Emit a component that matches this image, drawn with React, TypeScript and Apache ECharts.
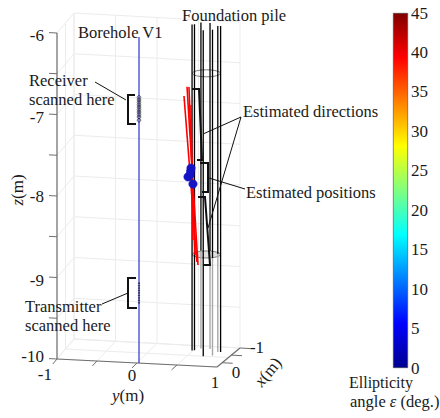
import React, { useEffect, useRef } from "react";
import * as echarts from "echarts";

const SERIF = "'Liberation Serif', serif";
const TEXT = "#1a1a1a";

// axes
const zGridValues = [-6, -6.5, -7, -7.5, -8, -8.5, -9, -9.5, -10];
const yGridValues = [-1, -0.5, 0, 0.5, 1];
const xGridValues = [-1, 0, 1];
const zTickValues = [-6, -6.5, -7, -7.5, -8, -8.5, -9, -9.5, -10];
const yTickValues = [-1, -0.5, 0, 0.5];
const xTickValues = [-1, -0.25, 0.55];
const colorbarTicks = [0, 45];

// foundation pile bars (x, y in metres)
const pileX = [-0.5, -0.55, -0.75, 0, -0.75, -0.1, -0.5, -0.5];
const pileY = [0.487, 0.51, 0.562, 0.69, 0.672, 0.79, 0.8, 0.834];
const pileGreyBelow = [false, false, true, false, true, true, true, false];
const pileCircleZ = [-6.577, -8.8];

// borehole V1 scan positions (z in metres)
const receiverZ = [-6.74, -6.77, -6.8, -6.83, -6.86, -6.89, -6.92, -6.95, -6.98, -7.02];
const transmitterZ = [-9.02, -9.05, -9.08, -9.11, -9.14, -9.17, -9.2, -9.23, -9.26];

// estimated directions: [y, z] of both ends, at x = 0
const directionTopY = [0.454, 0.491, 0.515, 0.54];
const directionTopZ = [-6.82, -6.705, -6.707, -6.927];
const directionBottomY = [0.613, 0.626, 0.589, 0.564];
const directionBottomZ = [-8.848, -8.885, -8.764, -8.581];

// estimated positions
const positionY = [0.54, 0.528, 0.503, 0.564, 0.535];
const positionZ = [-7.7, -7.785, -7.81, -7.894, -7.74];

const lerp = (a: number, b: number, t: number) => a + (b - a) * t;
function project(x: number, y: number, z: number): number[] {
  const u = (y + 1) / 2;
  const v = (x + 1) / 2;
  const fx = lerp(lerp(74, 240, u), lerp(57, 217, u), v);
  const fy = lerp(lerp(339, 348, u), lerp(359, 367, u), v);
  return [fx, fy - (z + 10) * 81.5];
}

type Seg = number[];
const segments = (name: string, data: Seg[], color: string, width: number) => ({
  type: "custom",
  name,
  silent: true,
  xAxisIndex: 0,
  yAxisIndex: 0,
  data,
  renderItem: (_: any, api: any) => {
    const a = api.coord(project(api.value(0), api.value(1), api.value(2)));
    const b = api.coord(project(api.value(3), api.value(4), api.value(5)));
    return {
      type: "line",
      shape: { x1: a[0], y1: a[1], x2: b[0], y2: b[1] },
      style: { stroke: color, lineWidth: width, fill: "none" },
    };
  },
});

const dots = (name: string, data: number[][], r: number, style: any) => ({
  type: "custom",
  name,
  silent: true,
  xAxisIndex: 0,
  yAxisIndex: 0,
  data,
  renderItem: (_: any, api: any) => {
    const c = api.coord(project(api.value(0), api.value(1), api.value(2)));
    return { type: "circle", shape: { cx: c[0], cy: c[1], r }, style };
  },
});

const circles3d = (name: string, data: number[][], styles: any[]) => ({
  type: "custom",
  name,
  silent: true,
  xAxisIndex: 0,
  yAxisIndex: 0,
  data,
  renderItem: (p: any, api: any) => {
    const c = api.coord(project(api.value(0), api.value(1), api.value(2)));
    return {
      type: "ellipse",
      shape: { cx: c[0], cy: c[1], rx: 14, ry: 3.5 },
      style: styles[p.dataIndex],
    };
  },
});

function buildGrid(): Seg[] {
  const s: Seg[] = [];
  for (const z of zGridValues) {
    s.push([-1, -1, z, -1, 1, z]);
    s.push([1, -1, z, -1, -1, z]);
  }
  for (const y of yGridValues) {
    s.push([-1, y, -10, -1, y, -6]);
    s.push([-1, y, -10, 1, y, -10]);
  }
  for (const x of xGridValues) {
    s.push([x, -1, -10, x, -1, -6]);
    s.push([x, -1, -10, x, 1, -10]);
  }
  return s;
}

function buildOption() {
  const axes: Seg[] = [
    [1, -1, -6, 1, -1, -10],
    [1, -1, -10, 1, 1, -10],
    [1, 1, -10, -1, 1, -10],
  ];
  const ticks: Seg[] = [
    ...zTickValues.map((z) => [1, -1, z, 1, -1.1, z]),
    ...yTickValues.map((y) => [1, y, -10, 1.5, y, -10]),
    ...xTickValues.map((x) => [x, 1, -10, x, 1.13, -10]),
  ];
  const pileBlack: Seg[] = pileX.map((x, i) => [
    x, pileY[i], -6, x, pileY[i], pileGreyBelow[i] ? pileCircleZ[1] : -10,
  ]);
  const pileGrey: Seg[] = pileX
    .map((x, i) => [x, pileY[i], pileCircleZ[1], x, pileY[i], -10])
    .filter((_, i) => pileGreyBelow[i]);
  const directions: Seg[] = directionTopY.map((y, i) => [
    0, y, directionTopZ[i], 0, directionBottomY[i], directionBottomZ[i],
  ]);
  const poly = (points: number[][], lineWidth: number) => ({
    type: "polyline",
    z: 50,
    shape: { points },
    style: { stroke: "#111", lineWidth, fill: "none" },
  });
  const label = (text: string, x: number, y: number, extra: any = {}) => {
    const fontSize = extra.size ?? 16.5;
    return {
      type: "text",
      z: 60,
      x,
      y,
      rotation: extra.rotation ?? 0,
      style: {
        text,
        fill: TEXT,
        fontFamily: SERIF,
        fontSize,
        align: extra.align ?? "left",
        verticalAlign: "middle",
        rich: {
          i: { fontStyle: "italic", fontFamily: SERIF, fontSize, fill: TEXT },
          n: { fontFamily: SERIF, fontSize, fill: TEXT },
        },
      },
    };
  };

  return {
    animation: false,
    backgroundColor: "#ffffff",
    grid: [
      { left: 0, top: 0, width: 440, height: 418 },
      { left: 393, top: 13, width: 15, height: 355 },
    ],
    xAxis: [
      { type: "value", gridIndex: 0, min: 0, max: 440, show: false },
      { type: "category", gridIndex: 1, data: ["ε"], show: false },
    ],
    yAxis: [
      { type: "value", gridIndex: 0, min: 0, max: 418, inverse: true, show: false },
      {
        type: "value",
        gridIndex: 1,
        position: "right",
        min: colorbarTicks[0],
        max: colorbarTicks[1],
        interval: 5,
        axisLine: { show: false },
        splitLine: { show: false },
        axisTick: { inside: true, length: 4, lineStyle: { color: "#222", width: 1 } },
        axisLabel: { margin: 3, fontFamily: SERIF, fontSize: 17, color: TEXT },
      },
    ],
    series: [
      segments("grid", buildGrid(), "#ececec", 1),
      segments("axes", axes, "#6e6e6e", 1.2),
      segments("ticks", ticks, "#6e6e6e", 1),
      circles3d(
        "pile circles",
        pileCircleZ.map((z) => [-0.4, 0.675, z]),
        [
          { stroke: "#777", fill: "none", lineWidth: 1 },
          { stroke: "#777", fill: "rgba(170,170,170,0.35)", lineWidth: 1 },
        ],
      ),
      segments("Borehole V1", [[1, 0.025, -6, 1, 0.025, -10]], "#2f2fd0", 1.2),
      segments("pile grey", pileGrey, "#a8a8a8", 1.4),
      segments("pile", pileBlack, "#000000", 1.3),
      dots(
        "receiver",
        receiverZ.map((z) => [1, 0.025, z]),
        1.8,
        { stroke: "#222", fill: "none", lineWidth: 0.7 },
      ),
      dots(
        "transmitter",
        transmitterZ.map((z) => [1, 0.025, z]),
        0.6,
        { stroke: "#222", fill: "#222", lineWidth: 0.5 },
      ),
      segments("directions", directions, "#ff0000", 1.6),
      dots(
        "positions",
        positionY.map((y, i) => [0, y, positionZ[i]]),
        4.2,
        { fill: "#1414c4", stroke: "#1414c4", lineWidth: 0.5 },
      ),
      {
        type: "bar",
        name: "colorbar",
        xAxisIndex: 1,
        yAxisIndex: 1,
        silent: true,
        barWidth: "100%",
        data: [45],
        itemStyle: {
          borderColor: "#444",
          borderWidth: 0.6,
          color: new echarts.graphic.LinearGradient(0, 0, 0, 1, [
            { offset: 0, color: "#800000" },
            { offset: 0.125, color: "#ff0000" },
            { offset: 0.375, color: "#ffff00" },
            { offset: 0.625, color: "#00ffff" },
            { offset: 0.875, color: "#0000ff" },
            { offset: 1, color: "#00008f" },
          ]),
        },
      },
    ],
    graphic: [
      poly([[135, 95], [128, 95], [128, 124], [136, 124]], 2),
      poly([[136, 278], [128, 278], [128, 308], [137, 308]], 2),
      poly([[192, 89], [199, 89], [202, 160], [197, 160]], 2),
      poly([[200, 163], [208, 163], [208, 192], [202, 192]], 2),
      poly([[198, 197], [205, 197], [210, 265], [203, 265]], 2),
      poly([[95, 82], [126, 100]], 1),
      poly([[102, 304], [128, 293]], 1),
      poly([[203, 134], [241, 117], [208, 228]], 1),
      poly([[209, 178], [245, 189]], 1),
      label("Foundation pile", 182, 15),
      label("Borehole V1", 78, 32),
      label("Receiver", 29, 80),
      label("scanned here", 29, 99),
      label("Transmitter", 25, 306),
      label("scanned here", 25, 325),
      label("Estimated directions", 243, 111),
      label("Estimated positions", 246, 192),
      label("-6", 44, 35, { align: "right", size: 17 }),
      label("-7", 44, 117, { align: "right", size: 17 }),
      label("-8", 44, 196, { align: "right", size: 17 }),
      label("-9", 44, 280, { align: "right", size: 17 }),
      label("-10", 44, 356, { align: "right", size: 17 }),
      label("-1", 52, 374, { align: "right", size: 17 }),
      label("0", 132, 375, { align: "center", size: 17 }),
      label("1", 215, 382, { align: "center", size: 17 }),
      label("0", 236, 372, { align: "center", size: 17 }),
      label("-1", 257, 347, { align: "center", size: 17 }),
      label("{i|y}{n|(m)}", 128, 395, { align: "center", size: 17 }),
      label("{i|x}{n|(m)}", 268, 372, { align: "center", rotation: Math.PI * 0.28, size: 17 }),
      label("{i|z}{n|(m)}", 17, 190, { align: "center", rotation: Math.PI / 2, size: 17 }),
      label("Ellipticity", 349, 382, { size: 16 }),
      label("{n|angle }{i|ε}{n| (deg.)}", 350, 401),
    ],
  };
}

export default function App() {
  const ref = useRef<HTMLDivElement>(null);
  useEffect(() => {
    const chart = echarts.init(ref.current!, undefined, { renderer: "svg" });
    chart.setOption(buildOption() as any);
    return () => chart.dispose();
  }, []);
  return (
    <div
      ref={ref}
      style={{ position: "fixed", left: 0, top: 0, width: 440, height: 418 }}
    />
  );
}
